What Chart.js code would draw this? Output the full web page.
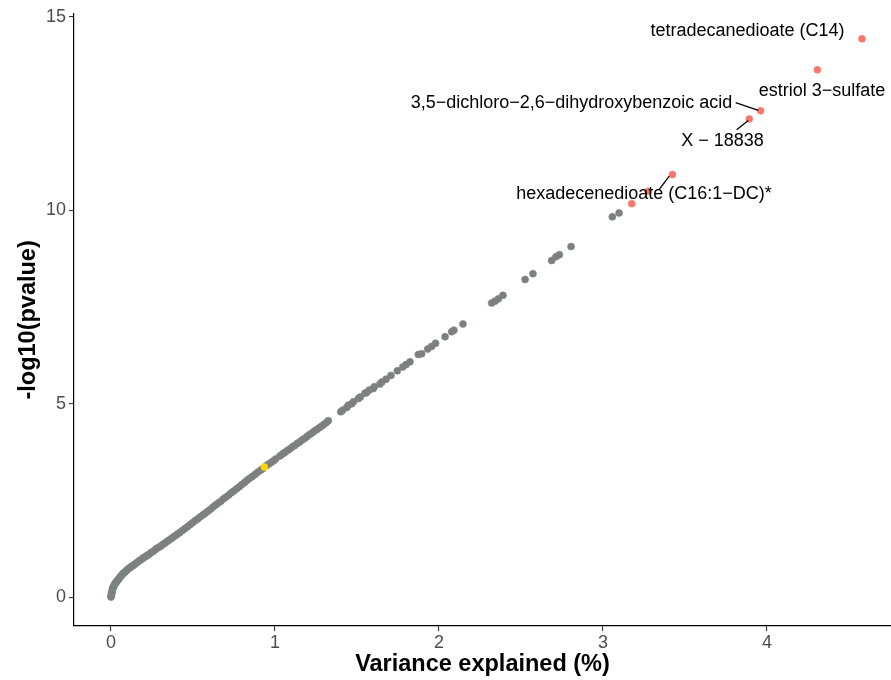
<!DOCTYPE html>
<html><head><meta charset="utf-8">
<script src="https://cdn.jsdelivr.net/npm/chart.js@4.4.0/dist/chart.umd.min.js"></script>
<style>html,body{margin:0;padding:0;background:#fff}#wrap{width:891px;height:680px}</style>
</head><body><div id="wrap"><canvas id="c" width="891" height="680"></canvas></div>
<script>
// Non-significant metabolites (grey)
const grayX = [0.000,0.001,0.002,0.003,0.004,0.005,0.006,0.008,0.010,0.012,0.015,0.018,0.021,0.025,0.029,0.033,0.038,0.043,0.048,0.054,0.060,0.066,0.072,0.079,0.086,0.093,0.100,0.108,0.116,0.124,0.133,0.142,0.151,0.160,0.170,0.180,0.190,0.200,0.211,0.222,0.233,0.244,0.256,0.268,0.280,0.292,0.304,0.316,0.328,0.340,0.353,0.366,0.380,0.393,0.406,0.420,0.435,0.451,0.466,0.481,0.497,0.512,0.528,0.543,0.559,0.575,0.590,0.606,0.622,0.638,0.654,0.670,0.686,0.702,0.718,0.734,0.750,0.766,0.782,0.798,0.814,0.830,0.846,0.862,0.878,0.895,0.912,0.925,0.948,0.962,0.976,0.990,1.004,1.030,1.046,1.060,1.075,1.090,1.105,1.120,1.135,1.150,1.165,1.180,1.195,1.210,1.225,1.240,1.255,1.270,1.285,1.300,1.315,1.325,
  1.401,1.412,1.437,1.447,1.468,1.478,1.508,1.520,1.549,1.559,1.575,1.599,1.606,1.640,1.652,1.677,1.707,1.746,1.779,1.799,1.823,1.874,1.894,1.931,1.955,1.979,2.037,2.077,2.091,2.146,2.321,2.341,2.362,2.390,2.525,2.573,2.687,2.713,2.734,2.805,3.057,3.098];
const grayY = [0.00,0.03,0.05,0.08,0.10,0.12,0.14,0.18,0.22,0.24,0.27,0.29,0.32,0.35,0.37,0.39,0.42,0.45,0.47,0.51,0.54,0.57,0.60,0.63,0.65,0.68,0.71,0.74,0.76,0.79,0.81,0.84,0.87,0.90,0.93,0.96,0.99,1.02,1.05,1.08,1.11,1.15,1.18,1.22,1.26,1.29,1.32,1.36,1.39,1.43,1.47,1.51,1.55,1.59,1.63,1.67,1.72,1.77,1.82,1.87,1.92,1.97,2.02,2.07,2.12,2.17,2.22,2.27,2.33,2.38,2.43,2.48,2.54,2.59,2.64,2.70,2.75,2.80,2.85,2.91,2.96,3.02,3.07,3.12,3.17,3.23,3.28,3.32,3.40,3.44,3.48,3.52,3.57,3.65,3.70,3.74,3.79,3.83,3.88,3.92,3.97,4.01,4.06,4.10,4.15,4.20,4.24,4.29,4.33,4.38,4.42,4.47,4.52,4.56,
  4.79,4.83,4.90,4.96,5.00,5.05,5.13,5.17,5.27,5.29,5.35,5.39,5.44,5.51,5.56,5.63,5.73,5.85,5.95,6.01,6.08,6.27,6.29,6.41,6.48,6.56,6.73,6.86,6.90,7.06,7.60,7.65,7.71,7.80,8.21,8.36,8.70,8.80,8.85,9.06,9.83,9.93];
// Highlighted metabolite (yellow)
const yellowX = [0.935];
const yellowY = [3.36];
// Top significant metabolites (red)
const redX = [3.175,3.276,3.423,3.892,3.961,4.307,4.579];
const redY = [10.17,10.49,10.92,12.36,12.57,13.63,14.43];
// Labels (data-space anchors)
const labelTexts = ['tetradecanedioate (C14)','estriol 3\u2212sulfate','3,5\u2212dichloro\u22122,6\u2212dihydroxybenzoic acid','X \u2212 18838','hexadecenedioate (C16:1\u2212DC)*'];
const labelX = [3.881,4.335,2.808,3.729,3.250];
const labelY = [14.64,13.09,12.78,11.80,10.41];
// Leader segments (from label side to point side)
const segX0 = [3.809,3.815,3.343];
const segY0 = [12.78,12.08,10.54];
const segX1 = [3.947,3.886,3.404];
const segY1 = [12.58,12.32,10.88];
const xTicks = [0,1,2,3,4];
const yTicks = [0,5,10,15];

const toPts = (xs, ys) => xs.map((x, i) => ({x: x, y: ys[i]}));
const FONT = "'Liberation Sans', Arial, Helvetica, sans-serif";

const labelPlugin = {
  id: 'labels',
  afterDatasetsDraw(chart) {
    const ctx = chart.ctx, xs = chart.scales.x, ys = chart.scales.y;
    ctx.save();
    ctx.strokeStyle = '#000';
    ctx.lineWidth = 1.3;
    for (let i = 0; i < segX0.length; i++) {
      ctx.beginPath();
      ctx.moveTo(xs.getPixelForValue(segX0[i]), ys.getPixelForValue(segY0[i]));
      ctx.lineTo(xs.getPixelForValue(segX1[i]), ys.getPixelForValue(segY1[i]));
      ctx.stroke();
    }
    ctx.fillStyle = '#000';
    ctx.font = '18px ' + FONT;
    ctx.textAlign = 'center';
    ctx.textBaseline = 'middle';
    for (let i = 0; i < labelTexts.length; i++) {
      ctx.fillText(labelTexts[i], xs.getPixelForValue(labelX[i]), ys.getPixelForValue(labelY[i]));
    }
    ctx.restore();
  }
};

new Chart(document.getElementById('c'), {
  type: 'scatter',
  data: {
    datasets: [
      {order: 3, data: toPts(grayX, grayY), backgroundColor: '#7F7F7F', borderColor: '#7A8585', borderWidth: 0.6, pointRadius: 3.5, pointHoverRadius: 3.5},
      {order: 2, data: toPts(yellowX, yellowY), backgroundColor: '#FFD700', borderColor: '#FFD700', borderWidth: 0.5, pointRadius: 3.5},
      {order: 1, data: toPts(redX, redY), backgroundColor: '#F8766D', borderColor: '#F8766D', borderWidth: 0.5, pointRadius: 3.5}
    ]
  },
  options: {
    responsive: false,
    devicePixelRatio: 1,
    animation: false,
    layout: {autoPadding: false, padding: {top: 0, right: 0, bottom: 0, left: 0}},
    plugins: {legend: {display: false}, tooltip: {enabled: false}},
    scales: {
      x: {
        type: 'linear', min: -0.2256, max: 4.756,
        afterBuildTicks: s => { s.ticks = xTicks.map(v => ({value: v})); },
        afterFit: s => { s.height = 54; },
        grid: {drawOnChartArea: false, color: '#333333', tickLength: 5, lineWidth: 1.1},
        border: {display: true, color: '#000000', width: 1.2},
        ticks: {color: '#4D4D4D', font: {family: FONT, size: 18}, padding: 1, maxRotation: 0},
        title: {display: true, text: 'Variance explained (%)', color: '#000', font: {family: FONT, size: 23.5, weight: 'bold'}, padding: {top: 0, bottom: 1}}
      },
      y: {
        type: 'linear', min: -0.7474, max: 15.077,
        afterBuildTicks: s => { s.ticks = yTicks.map(v => ({value: v})); },
        afterFit: s => { s.width = 74; },
        grid: {drawOnChartArea: false, color: '#333333', tickLength: 5, lineWidth: 1.1},
        border: {display: true, color: '#000000', width: 1.2},
        ticks: {color: '#4D4D4D', font: {family: FONT, size: 18}, padding: 3},
        title: {display: true, text: '-log10(pvalue)', color: '#000', font: {family: FONT, size: 23.5, weight: 'bold'}, padding: {top: 14, bottom: 0}}
      }
    }
  },
  plugins: [labelPlugin]
});
</script>
</body></html>
